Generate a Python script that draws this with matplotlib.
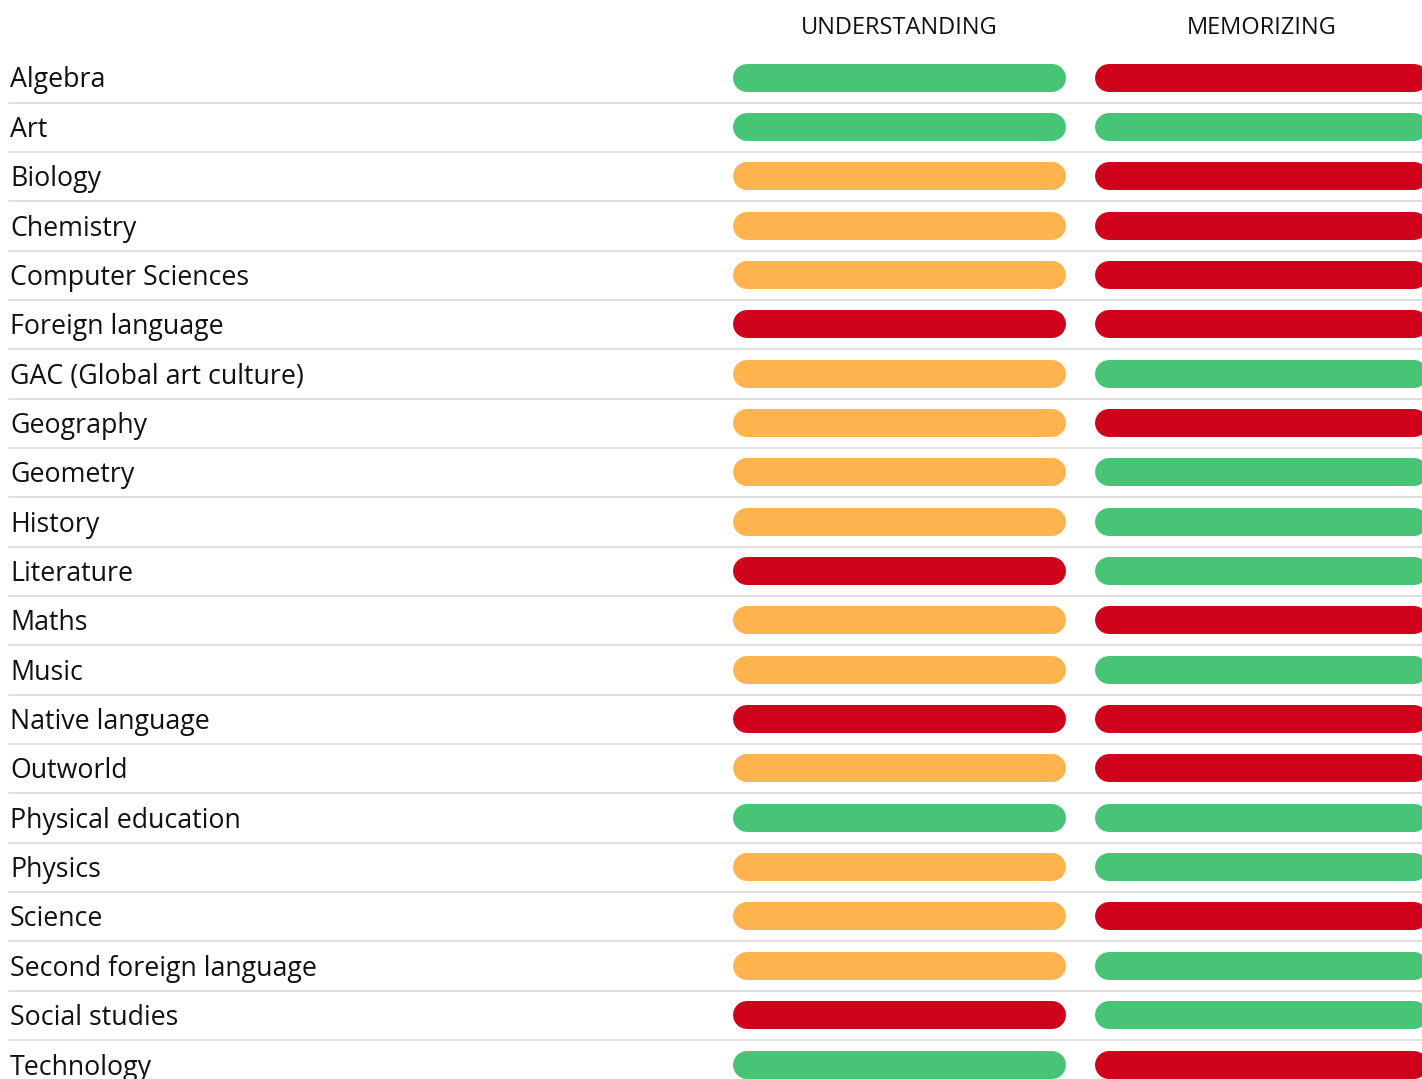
import matplotlib
matplotlib.use("Agg")
import matplotlib.pyplot as plt

subjects = ["Algebra", "Art", "Biology", "Chemistry", "Computer Sciences",
            "Foreign language", "GAC (Global art culture)", "Geography", "Geometry",
            "History", "Literature", "Maths", "Music", "Native language", "Outworld",
            "Physical education", "Physics", "Science", "Second foreign language",
            "Social studies", "Technology"]
understanding = ["good", "good", "medium", "medium", "medium", "bad", "medium", "medium",
                 "medium", "medium", "bad", "medium", "medium", "bad", "medium", "good",
                 "medium", "medium", "medium", "bad", "good"]
memorizing = ["bad", "good", "bad", "bad", "bad", "bad", "good", "bad", "good", "good",
              "good", "bad", "good", "bad", "bad", "good", "good", "bad", "good", "good", "bad"]
columns = ["UNDERSTANDING", "MEMORIZING"]

colors = {"good": "#48C477", "medium": "#FDB44E", "bad": "#D0021B"}

W, H = 1422, 1079
fig = plt.figure(figsize=(W / 100, H / 100), dpi=100)
ax = fig.add_axes([0, 0, 1, 1])
ax.set_xlim(0, W)
ax.set_ylim(H, 0)
ax.axis("off")

fam = ["Open Sans", "DejaVu Sans"]
plt.rcParams['font.family'] = fam

y0, pitch = 77.5, 49.35
bar_h = 28
lw = bar_h * 72 / 100
col_x = [(733, 1066), (1095, 1428)]

for j, name in enumerate(columns):
    xa, xb = col_x[j]
    ax.text((xa + xb) / 2, 34, name, ha="center", va="baseline", fontsize=17,
            color="#111111", family=fam)

for i, subj in enumerate(subjects):
    y = y0 + i * pitch
    ax.text(10, y + 10, subj, ha="left", va="baseline", fontsize=19.3, color="#111111",
            family=fam)
    for j, vals in enumerate([understanding, memorizing]):
        xa, xb = col_x[j]
        ax.plot([xa + bar_h / 2, xb - bar_h / 2], [y, y], color=colors[vals[i]],
                lw=lw, solid_capstyle="round")
    if i < len(subjects) - 1:
        ax.plot([9, W], [y + 25, y + 25], color="#dcdcdc", lw=1.3)

fig.savefig("out.png", dpi=100)
